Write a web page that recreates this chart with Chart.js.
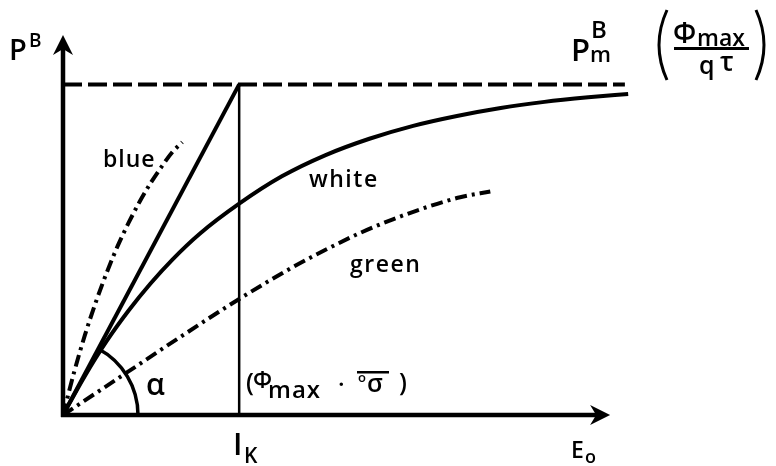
<!DOCTYPE html>
<html lang="en">
<head>
  <meta charset="UTF-8" />
  <title>P-I curve</title>
  <script src="https://cdn.jsdelivr.net/npm/chart.js"></script>
  <style>
    body {
      margin: 0;
      background: #fff;
    }
    canvas {
      display: block;
    }
  </style>
</head>
<body>
  <canvas id="chart" width="776" height="466"></canvas>

  <script>
    // axis extents (arbitrary units) and the two reference levels
    const xMax = 104;
    const yMax = 100;
    const axisEnd = 100;
    const Ik = 32.2;
    const Pm = 87;
    const pmLineEnd = 102.7;

    // white light: saturating curve, tangent to the initial slope at the origin
    const whiteX = [0, 4, 8, 12, 16, 20, 25, 32.2, 40, 48, 56, 64, 72, 80, 88, 96, 103.3];
    const whiteY = [0, 10.3, 19.5, 27.5, 34.6, 40.9, 47.7, 55.6, 62.8, 68.4, 72.7, 76.1, 78.7, 80.8, 82.4, 83.6, 84.5];

    // blue light: steepest initial slope
    const blueX = [0, 2, 4, 6, 8, 10, 12, 14, 16, 18, 20, 21.8];
    const blueY = [0, 11.1, 21, 29.7, 37.5, 44.5, 50.6, 56.1, 61, 65.3, 69.2, 71.8];

    // green light: shallow slope
    const greenX = [0, 11.9, 21.4, 32.4, 42, 48.3, 54.3, 60.3, 66.5, 72.6, 78.1];
    const greenY = [0, 11.4, 20.5, 30.7, 38.9, 43.7, 47.9, 51.5, 54.7, 57.3, 58.8];

    const toPoints = (xs, ys) => xs.map((x, i) => ({ x: x, y: ys[i] }));

    const dashDot = [12, 5, 3, 5];
    const FONT = '"Open Sans", sans-serif';

    function text(ctx, str, x, y, size, spacing) {
      ctx.font = '600 ' + size + 'px ' + FONT;
      ctx.letterSpacing = (spacing || 0) + 'px';
      ctx.fillText(str, x, y);
    }

    // axes with arrows, the alpha arc and all annotations
    const decorations = {
      id: 'decorations',
      afterDatasetsDraw(chart) {
        const ctx = chart.ctx;
        const xs = chart.scales.x;
        const ys = chart.scales.y;
        const x0 = xs.getPixelForValue(0);
        const y0 = ys.getPixelForValue(0);
        const xTip = xs.getPixelForValue(axisEnd);
        const yTip = ys.getPixelForValue(yMax);

        ctx.save();
        ctx.fillStyle = '#000';
        ctx.strokeStyle = '#000';
        ctx.lineCap = 'butt';

        // axes
        ctx.lineWidth = 4.5;
        ctx.beginPath();
        ctx.moveTo(x0, y0 + 2);
        ctx.lineTo(x0, yTip + 12);
        ctx.moveTo(x0 - 2, y0);
        ctx.lineTo(xTip - 12, y0);
        ctx.stroke();

        // arrow heads
        ctx.beginPath();
        ctx.moveTo(x0, yTip);
        ctx.lineTo(x0 + 10, yTip + 20);
        ctx.lineTo(x0, yTip + 14);
        ctx.lineTo(x0 - 10, yTip + 20);
        ctx.closePath();
        ctx.fill();
        ctx.beginPath();
        ctx.moveTo(xTip, y0);
        ctx.lineTo(xTip - 20, y0 - 10);
        ctx.lineTo(xTip - 14, y0);
        ctx.lineTo(xTip - 20, y0 + 10);
        ctx.closePath();
        ctx.fill();

        // alpha arc between the x axis and the initial slope line
        const kx = xs.getPixelForValue(Ik) - x0;
        const ky = ys.getPixelForValue(Pm) - y0;
        const ang = Math.atan2(ky, kx);
        ctx.lineWidth = 3.5;
        ctx.beginPath();
        ctx.arc(x0, y0, 75, ang, 0);
        ctx.stroke();

        ctx.textBaseline = 'alphabetic';

        // y axis title P^B
        text(ctx, 'P', 9, 60, 29);
        text(ctx, 'B', 29, 47, 19);

        // P_m^B at the end of the dashed line
        text(ctx, 'P', 571, 61, 31);
        text(ctx, 'B', 591, 38, 24);
        text(ctx, 'm', 590, 62, 22);

        // (Φmax / qτ)
        ctx.lineWidth = 3;
        ctx.beginPath();
        ctx.moveTo(667, 10);
        ctx.quadraticCurveTo(651, 45, 667, 80);
        ctx.moveTo(756, 10);
        ctx.quadraticCurveTo(772, 45, 756, 80);
        ctx.stroke();
        text(ctx, 'Φ', 673, 43, 28);
        text(ctx, 'max', 697, 46, 23);
        ctx.fillRect(674, 47, 75, 3);
        text(ctx, 'q', 699, 74, 25);
        text(ctx, 'τ', 720, 71, 27);

        // curve labels
        text(ctx, 'blue', 103, 167, 23, 1);
        text(ctx, 'white', 309, 187, 23, 1.5);
        text(ctx, 'green', 350, 272, 23, 1.5);

        // angle and axis labels
        text(ctx, 'α', 146, 395, 30);
        text(ctx, 'I', 233, 455, 31);
        text(ctx, 'K', 244, 463, 21);
        text(ctx, 'E', 571, 458, 23);
        text(ctx, 'o', 585, 463, 18);

        // (Φmax · σσ)
        text(ctx, '(', 246, 391, 25);
        text(ctx, 'Φ', 253, 388, 23);
        text(ctx, 'max', 268, 398, 24, 1);
        text(ctx, '·', 338, 393, 24);
        text(ctx, 'o', 358, 382, 13);
        text(ctx, 'σ', 367, 392, 25);
        ctx.fillRect(357, 371, 32, 2.5);
        text(ctx, ')', 399, 391, 25);

        ctx.restore();
      }
    };

    const lineStyle = {
      showLine: true,
      pointRadius: 0,
      borderColor: '#000',
      backgroundColor: '#000',
      fill: false,
      clip: false
    };

    new Chart(document.getElementById('chart'), {
      type: 'scatter',
      data: {
        datasets: [
          Object.assign({}, lineStyle, {
            label: 'Pm',
            data: toPoints([0, pmLineEnd], [Pm, Pm]),
            borderWidth: 4,
            borderDash: [19, 6]
          }),
          Object.assign({}, lineStyle, {
            label: 'Ik',
            data: toPoints([Ik, Ik], [0, Pm]),
            borderWidth: 2.5
          }),
          Object.assign({}, lineStyle, {
            label: 'alpha',
            data: toPoints([0, Ik], [0, Pm]),
            borderWidth: 4
          }),
          Object.assign({}, lineStyle, {
            label: 'white',
            data: toPoints(whiteX, whiteY),
            borderWidth: 4,
            cubicInterpolationMode: 'monotone'
          }),
          Object.assign({}, lineStyle, {
            label: 'blue',
            data: toPoints(blueX, blueY),
            borderWidth: 4,
            borderDash: dashDot,
            cubicInterpolationMode: 'monotone'
          }),
          Object.assign({}, lineStyle, {
            label: 'green',
            data: toPoints(greenX, greenY),
            borderWidth: 4,
            borderDash: dashDot,
            cubicInterpolationMode: 'monotone'
          })
        ]
      },
      options: {
        responsive: false,
        animation: false,
        layout: {
          padding: { left: 63, right: 144, top: 35, bottom: 51 }
        },
        scales: {
          x: { type: 'linear', min: 0, max: xMax, display: false },
          y: { type: 'linear', min: 0, max: yMax, display: false }
        },
        plugins: {
          legend: { display: false },
          tooltip: { enabled: false }
        }
      },
      plugins: [decorations]
    });
  </script>
</body>
</html>
